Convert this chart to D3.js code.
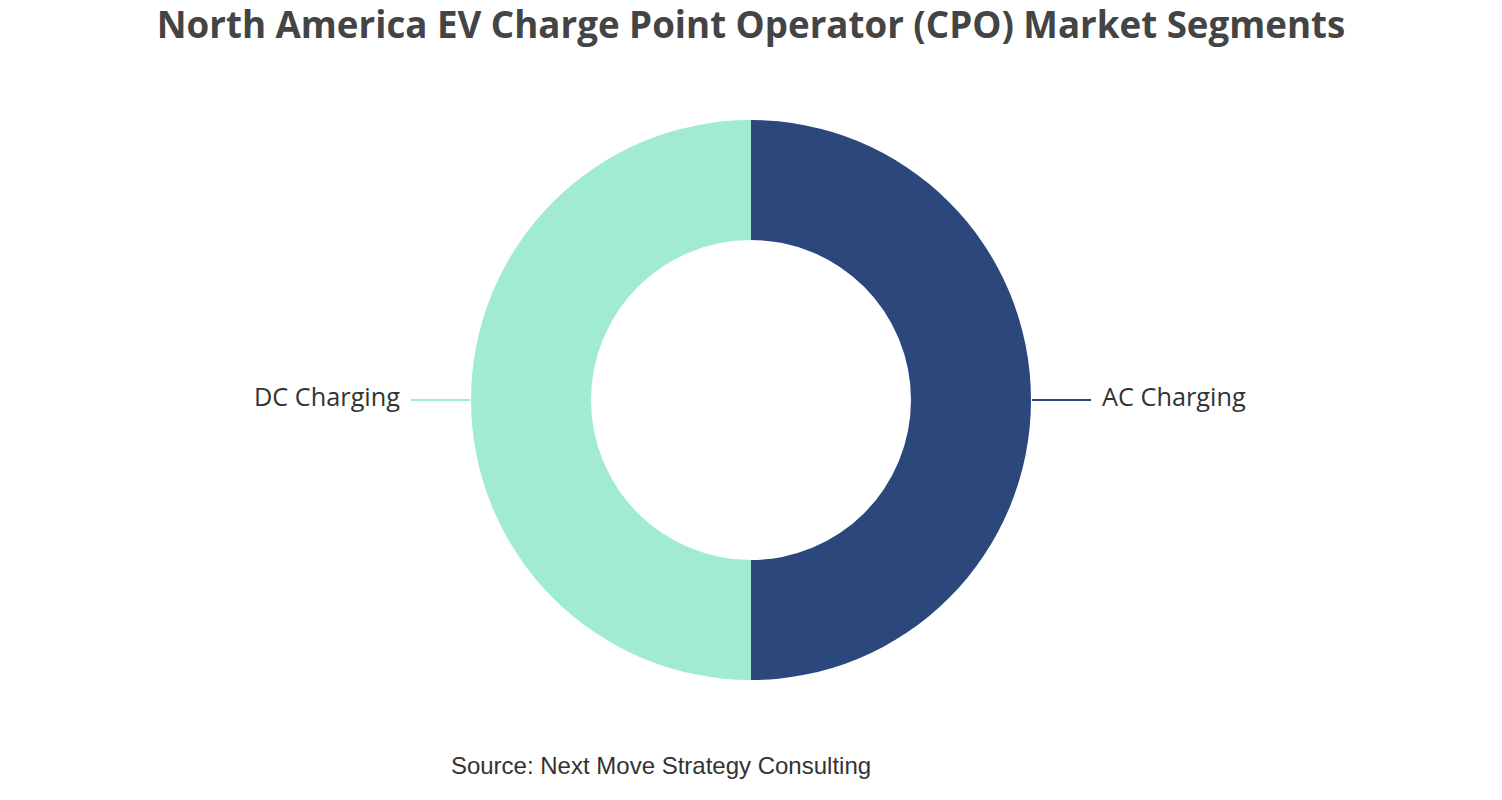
<!DOCTYPE html>
<html>
<head>
<meta charset="utf-8">
<script src="https://cdn.jsdelivr.net/npm/d3@7"></script>
<style>
  html, body { margin: 0; padding: 0; background: #fff; }
</style>
</head>
<body>
<svg id="chart" width="1502" height="800"></svg>
<script>
// chart data
const segments = ["AC Charging", "DC Charging"];
const shares = [50, 50];
const colors = ["#2b477b", "#a0ebd1"];

const W = 1502, H = 800;
const cx = 751, cy = 400;
const outerR = 280, innerR = 160;

const svg = d3.select("#chart");

// title
svg.append("text")
  .attr("x", W / 2).attr("y", 38)
  .attr("text-anchor", "middle")
  .style("font-family", "'Open Sans', 'Noto Sans', sans-serif")
  .style("font-weight", "bold")
  .style("font-size", "36.7px")
  .style("fill", "#444")
  .text("North America EV Charge Point Operator (CPO) Market Segments");

const data = segments.map((s, i) => ({ name: s, value: shares[i], color: colors[i] }));

// clockwise from 12 o'clock
const pie = d3.pie().sort(null).value(d => d.value);
const arc = d3.arc().innerRadius(innerR).outerRadius(outerR);

const g = svg.append("g").attr("transform", `translate(${cx},${cy})`);

const slices = pie(data);

g.selectAll("path.slice")
  .data(slices)
  .join("path")
  .attr("class", "slice")
  .attr("d", arc)
  .attr("fill", d => d.data.color);

// leader lines + labels
slices.forEach(s => {
  const mid = (s.startAngle + s.endAngle) / 2;
  const dir = Math.sin(mid) >= 0 ? 1 : -1;
  const p0 = [Math.sin(mid) * outerR, -Math.cos(mid) * outerR];
  const p1 = [p0[0] + dir * 60, p0[1]];
  g.append("line")
    .attr("x1", p0[0] + dir * 1).attr("y1", p0[1])
    .attr("x2", p1[0]).attr("y2", p1[1])
    .attr("stroke", s.data.color)
    .attr("stroke-width", 2);
  g.append("text")
    .attr("x", p1[0] + dir * 11).attr("y", p1[1] - 3)
    .attr("dy", "0.35em")
    .attr("text-anchor", dir > 0 ? "start" : "end")
    .style("font-family", "'Open Sans', 'Noto Sans', sans-serif")
    .style("font-size", "25.3px")
    .style("fill", "#333")
    .text(s.data.name);
});

// source note
svg.append("text")
  .attr("x", 661).attr("y", 774)
  .attr("text-anchor", "middle")
  .style("font-family", "'Liberation Sans', Arial, sans-serif")
  .style("font-size", "24px")
  .style("fill", "#333")
  .text("Source: Next Move Strategy Consulting");
</script>
</body>
</html>
